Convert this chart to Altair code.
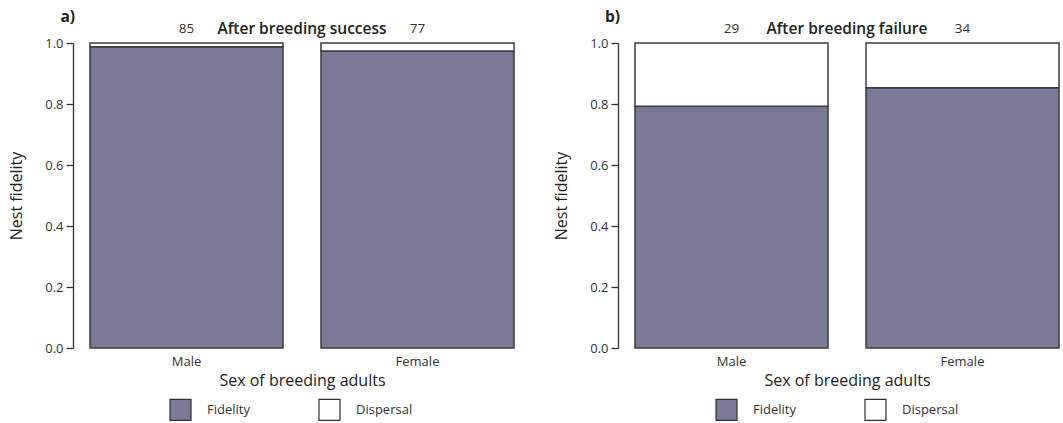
import altair as alt
import pandas as pd

# Nest fidelity of breeding adults, by sex, after success and after failure
sex = ["Male", "Female"]
n_success = [85, 77]
fidelity_success = [0.988, 0.974]
n_failure = [29, 34]
fidelity_failure = [0.793, 0.853]

outcomes = ["Fidelity", "Dispersal"]
fill_colors = ["#7a7a96", "#ffffff"]

FONT = "Open Sans"
PW, PH = 424, 305


def long_table(fid):
    rows = []
    for s, f in zip(sex, fid):
        rows.append({"sex": s, "outcome": "Fidelity", "lo": 0.0, "hi": f})
        rows.append({"sex": s, "outcome": "Dispersal", "lo": f, "hi": 1.0})
    return pd.DataFrame(rows)


def panel(fid, counts, title, tag, legend_x):
    df = long_table(fid)
    xenc = alt.X(
        "sex:N",
        sort=sex,
        scale=alt.Scale(paddingInner=0.1645, paddingOuter=0),
        axis=alt.Axis(
            title="Sex of breeding adults", labelAngle=0, domain=False, ticks=False,
            labelPadding=7, labelFontSize=13, labelColor="#333",
            titleFontSize=16, titleFontWeight=500, titlePadding=4, titleColor="#222",
        ),
    )
    bars = alt.Chart(df).mark_bar(stroke="#3d3d3d", strokeWidth=1.5).encode(
        x=xenc,
        y=alt.Y(
            "lo:Q",
            scale=alt.Scale(domain=[0, 1], nice=False),
            axis=alt.Axis(
                title="Nest fidelity", values=[0, 0.2, 0.4, 0.6, 0.8, 1.0], format=".1f",
                offset=17, tickSize=7, labelPadding=3, grid=False,
                domainColor="#333", tickColor="#333", domainWidth=1.3, tickWidth=1.3,
                labelFontSize=13, labelColor="#333",
                titleFontSize=16, titleFontWeight=500, titlePadding=20, titleColor="#222",
            ),
        ),
        y2="hi:Q",
        color=alt.Color(
            "outcome:N",
            scale=alt.Scale(domain=outcomes, range=fill_colors),
            sort=outcomes,
            legend=alt.Legend(
                title=None, orient="none", direction="horizontal",
                legendX=legend_x, legendY=355, padding=0,
                symbolType="square", symbolSize=441, symbolStrokeColor="#333",
                symbolStrokeWidth=1.2, symbolOpacity=1, symbolFillColor="#ffffff",
                labelFontSize=13, labelColor="#333", labelOffset=15,
                columnPadding=66,
            ),
        ),
    )
    cdf = pd.DataFrame({"sex": sex, "n": counts})
    count_text = alt.Chart(cdf).mark_text(
        font=FONT, fontSize=13.5, color="#333", baseline="middle"
    ).encode(x=alt.X("sex:N", sort=sex), y=alt.value(-14), text="n:Q")
    head = alt.Chart(pd.DataFrame({"t": [title]})).mark_text(
        font=FONT, fontSize=15.5, fontWeight=600, color="#222", baseline="middle"
    ).encode(x=alt.value(PW / 2), y=alt.value(-14), text="t:N")
    tag_text = alt.Chart(pd.DataFrame({"t": [tag]})).mark_text(
        font=FONT, fontSize=15.5, fontWeight=700, color="#222", align="right",
        baseline="middle",
    ).encode(x=alt.value(-15), y=alt.value(-26), text="t:N")
    return alt.layer(bars, count_text, head, tag_text).properties(width=PW, height=PH)


left = panel(fidelity_success, n_success, "After breeding success", "a)", 79)
right = panel(fidelity_failure, n_failure, "After breeding failure", "b)", 80)

chart = alt.hconcat(left, right, spacing=121, bounds="flush").resolve_scale(
    color="independent"
).resolve_legend(color="independent").properties(
    padding={"left": 8, "top": 10, "right": 0, "bottom": 0}
).configure(
    font=FONT
).configure_view(
    stroke=None
)

chart.save("out.html", embed_options={"renderer": "svg", "actions": False})
